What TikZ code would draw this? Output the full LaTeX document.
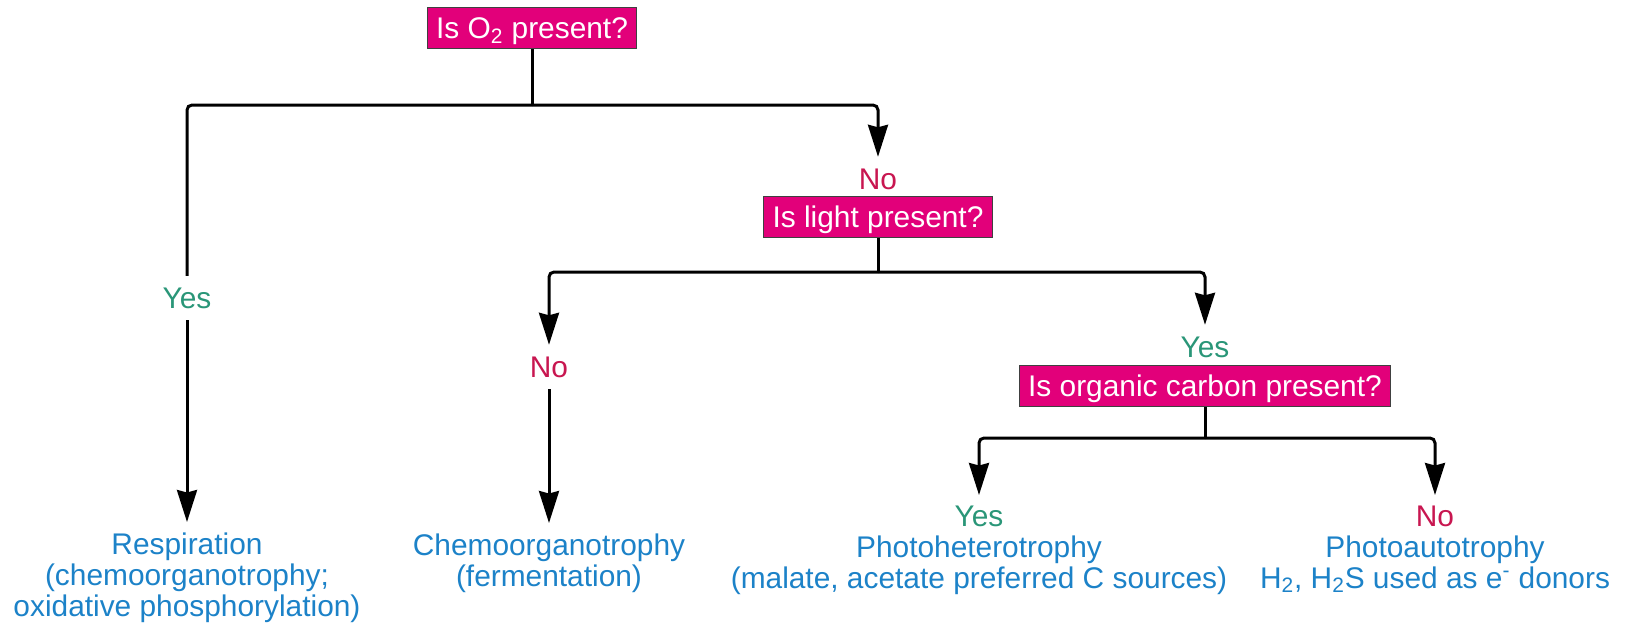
\documentclass[tikz,border=0pt]{standalone}
\usepackage{fontspec}
\setmainfont{Liberation Sans}
\usetikzlibrary{arrows.meta}
\definecolor{qpink}{RGB}{226,0,122}
\definecolor{nored}{RGB}{200,22,80}
\definecolor{yesgreen}{RGB}{42,150,120}
\definecolor{resblue}{RGB}{28,130,200}

\begin{document}
\begin{tikzpicture}[x=0.02cm,y=-0.02cm,line width=0.06cm,
  every node/.style={font=\fontsize{17}{17.65}\selectfont},
  question/.style={draw=black!75,line width=0.6pt,fill=qpink,text=white,
    inner xsep=0.18cm,inner ysep=0pt,minimum height=0.82cm,
    text height=12.2pt,text depth=0pt},
  yestag/.style={text=yesgreen,inner xsep=0pt,inner ysep=0.2cm,text height=12.2pt,text depth=0pt},
  notag/.style={text=nored,inner xsep=0pt,inner ysep=0.2cm,text height=12.2pt,text depth=0pt},
  result/.style={text=resblue,align=center,anchor=north,inner sep=0.18cm},
  flow/.style={-{Stealth[length=0.64cm,width=0.4cm,inset=0.05cm]}},
  branch/.style={rounded corners=0.1cm}]
\useasboundingbox (0,0) rectangle (1627,623);

\node[question] (qoxy) at (532,28) {Is O\textsubscript{2} present?};
\node[notag] (nooxy) at (878,179) {No};
\node[question] (qlight) at (878,217) {Is light present?};
\node[yestag] (yesoxy) at (187,298) {Yes};
\node[notag] (nolight) at (549,367) {No};
\node[yestag] (yeslight) at (1205,347) {Yes};
\node[question] (qcarb) at (1205,386) {Is organic carbon present?};

\node[result] (resp) at (187,522) {Respiration\\(chemoorganotrophy;\\oxidative phosphorylation)};
\node[result] (chemo) at (549,523) {Chemoorganotrophy\\(fermentation)};
\node[result] (hetero) at (979,495) {\textcolor{yesgreen}{Yes}\\Photoheterotrophy\\(malate, acetate preferred C sources)};
\node[result] (auto) at (1435,495) {\textcolor{nored}{No}\\Photoautotrophy\\H\textsubscript{2}, H\textsubscript{2}S used as e\textsuperscript{-} donors};

\coordinate (joxy) at (532,105);
\coordinate (jlight) at (878,272);
\coordinate (jcarb) at (1205,438);

\draw (qoxy) -- (joxy);
\draw[branch] (joxy) -| (yesoxy.north);
\draw[flow,branch] (joxy) -| (nooxy.north);
\draw[flow] (yesoxy.south) -- (resp.north);

\draw (qlight) -- (jlight);
\draw[flow,branch] (jlight) -| (nolight.north);
\draw[flow,branch] (jlight) -| (yeslight.north);
\draw[flow] (nolight.south) -- (chemo.north);

\draw (qcarb) -- (jcarb);
\draw[flow,branch] (jcarb) -| (hetero.north);
\draw[flow,branch] (jcarb) -| (auto.north);
\end{tikzpicture}
\end{document}
